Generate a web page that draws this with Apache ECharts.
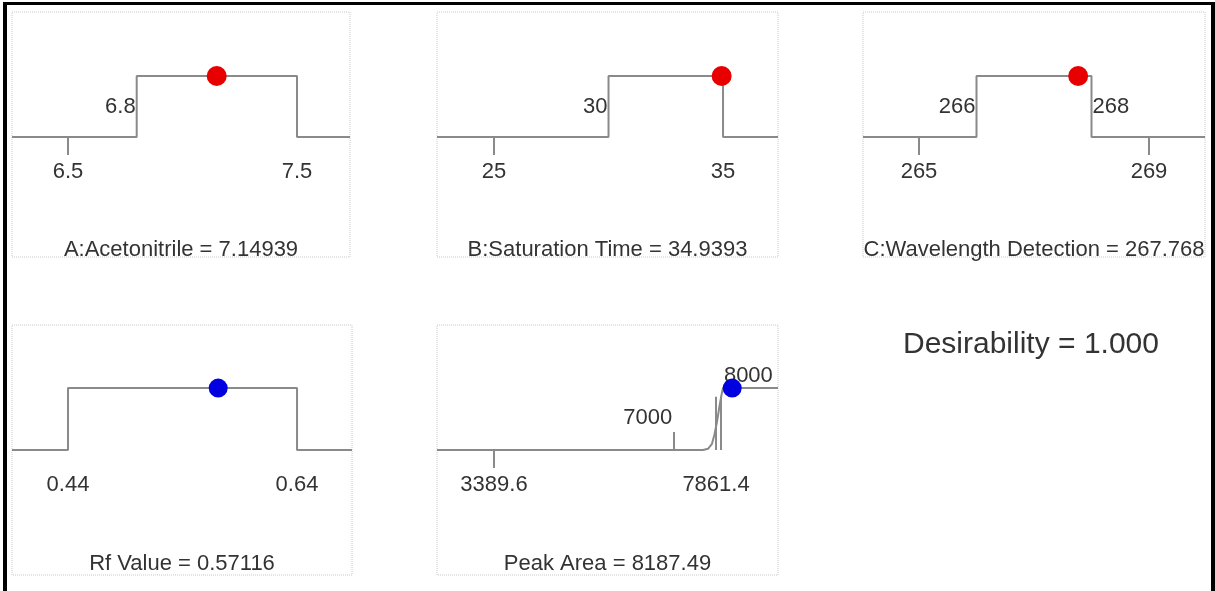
<!DOCTYPE html>
<html>
<head>
<meta charset="utf-8">
<script src="https://cdn.jsdelivr.net/npm/echarts@6/dist/echarts.min.js"></script>
<style>
html,body{margin:0;padding:0;background:#fff;}
#chart{width:1215px;height:591px;}
</style>
</head>
<body>
<div id="chart"></div>
<script>
// ---------- data ----------
const factorNames = ["A:Acetonitrile", "B:Saturation Time", "C:Wavelength Detection", "Rf Value", "Peak Area"];
const optimumValues = [7.14939, 34.9393, 267.768, 0.57116, 8187.49];
const optimumLabels = ["7.14939", "34.9393", "267.768", "0.57116", "8187.49"];
// range tick labels (below the ramp)
const rangeTicks = [[6.5, 7.5], [25, 35], [265, 269], [0.44, 0.64], [3389.6, 7861.4]];
// goal limits (where the ramp steps)
const goalLimits = [[6.8, 7.5], [30, 35], [266, 268], [0.44, 0.64], [7000, 8000]];
// labels drawn above the ramp
const goalLabels = [[6.8], [30], [266, 268], [], [7000, 8000]];
// peak area response ramp (value, desirability level)
const peakAreaCurveX = [7600, 7700, 7780, 7830, 7880, 7930, 7970, 8000];
const peakAreaCurveY = [0, 0.02, 0.1, 0.25, 0.45, 0.7, 0.88, 1];
const peakAreaMarksX = [7000, 7861.4, 7960];
const peakAreaMarksY = [0.29, 0.86, 0.86];
const desirability = "1.000";

// ---------- layout ----------
const grids = [
  {left: 12, top: 12, width: 338, height: 245},
  {left: 437, top: 12, width: 341, height: 245},
  {left: 863, top: 12, width: 342, height: 245},
  {left: 12, top: 325, width: 340, height: 250},
  {left: 437, top: 325, width: 341, height: 250}
];
const xExtents = [[6.2555, 7.7314], [22.51, 37.40], [264.026, 269.974], [0.3911, 0.688], [2241.6, 9109.7]];
const yExtents = [[-1.97, 2.05], [-1.97, 2.05], [-1.97, 2.05], [-2.02, 2.02], [-2.02, 2.02]];
const titleCenterY = [248, 248, 248, 562, 562];
const pointColors = ['#e80000', '#e80000', '#e80000', '#0000e0', '#0000e0'];
// which range ticks get a visible tick mark
const tickMarks = [[6.5], [25], [265, 269], [], [3389.6]];
const labelSide = [['left'], ['left'], ['left', 'right'], [], ['left', 'right']];
const labelLevel = [[0.5], [0.5], [0.5, 0.5], [], [0.52, 1.2]];

const TXT = '#333333';
const LINE = '#8a8a8a';
const FONT = '"Liberation Sans", Arial, sans-serif';

const option = {
  animation: false,
  backgroundColor: '#fff',
  textStyle: {fontFamily: FONT},
  grid: [], xAxis: [], yAxis: [], series: [], title: [],
  graphic: [
    {type: 'rect', shape: {x: 3, y: 2, width: 4, height: 589}, style: {fill: '#000'}},
    {type: 'rect', shape: {x: 3, y: 2, width: 1212, height: 3}, style: {fill: '#000'}},
    {type: 'rect', shape: {x: 1211, y: 2, width: 4, height: 589}, style: {fill: '#000'}}
  ]
};

function textLabel(pos, dist, txt) {
  return {show: true, position: pos, distance: dist, formatter: txt,
          fontSize: 22, color: TXT, fontFamily: FONT, opacity: 1};
}

for (let i = 0; i < 5; i++) {
  const g = grids[i];
  option.grid.push(Object.assign({
    show: true, borderColor: '#c8c8c8', borderWidth: 1, borderType: 'dotted',
    backgroundColor: 'transparent'
  }, g));
  option.xAxis.push({
    type: 'value', gridIndex: i, min: xExtents[i][0], max: xExtents[i][1],
    axisLine: {show: false, onZero: true},
    axisTick: {show: true, customValues: tickMarks[i], length: 18, inside: false,
               lineStyle: {color: LINE, width: 2}},
    axisLabel: {show: false},
    splitLine: {show: false}
  });
  option.yAxis.push({
    type: 'value', gridIndex: i, min: yExtents[i][0], max: yExtents[i][1], show: false,
    splitLine: {show: false}
  });
  // step ramp
  const xmin = xExtents[i][0], xmax = xExtents[i][1];
  let ramp;
  if (i === 4) {
    ramp = [[xmin, 0]];
    for (let k = 0; k < peakAreaCurveX.length; k++) ramp.push([peakAreaCurveX[k], peakAreaCurveY[k]]);
    ramp.push([xmax, 1]);
  } else {
    const lo = goalLimits[i][0], hi = goalLimits[i][1];
    ramp = [[xmin, 0], [lo, 0], [lo, 1], [hi, 1], [hi, 0], [xmax, 0]];
  }
  option.series.push({
    type: 'line', xAxisIndex: i, yAxisIndex: i, data: ramp, showSymbol: false,
    lineStyle: {color: LINE, width: 2}, z: 2
  });
  // range labels below the ramp
  option.series.push({
    type: 'scatter', xAxisIndex: i, yAxisIndex: i, symbolSize: 0,
    itemStyle: {opacity: 1},
    data: rangeTicks[i].map(v => ({value: [v, 0], label: textLabel('bottom', 24, String(v))})),
    z: 3
  });
  // goal labels
  if (goalLabels[i].length) {
    option.series.push({
      type: 'scatter', xAxisIndex: i, yAxisIndex: i, symbolSize: 0,
      itemStyle: {opacity: 1},
      data: goalLabels[i].map((v, k) => ({
        value: [v, labelLevel[i][k]],
        label: textLabel(labelSide[i][k], 1, String(v))
      })),
      z: 3
    });
  }
  // optimum point
  option.series.push({
    type: 'scatter', xAxisIndex: i, yAxisIndex: i, symbol: 'circle',
    symbolSize: i < 3 ? 20 : 19,
    itemStyle: {color: pointColors[i], opacity: 1},
    data: [[optimumValues[i], 1]], z: 5
  });
  // title
  option.title.push({
    text: factorNames[i] + ' = ' + optimumLabels[i],
    left: g.left + g.width / 2, top: titleCenterY[i] - 9, textAlign: 'center',
    textStyle: {fontSize: 22, fontWeight: 'normal', color: TXT, fontFamily: FONT},
    padding: 0
  });
}
// extra vertical marks on the peak area ramp
option.series.push({
  type: 'lines', coordinateSystem: 'cartesian2d', xAxisIndex: 4, yAxisIndex: 4,
  lineStyle: {color: LINE, width: 2, opacity: 1},
  data: peakAreaMarksX.map((x, k) => ({coords: [[x, 0], [x, peakAreaMarksY[k]]]})),
  z: 2
});
option.title.push({
  text: 'Desirability = ' + desirability, left: 903, top: 330, padding: 0,
  textStyle: {fontSize: 30, fontWeight: 'normal', color: TXT, fontFamily: FONT}
});

const chart = echarts.init(document.getElementById('chart'), null, {renderer: 'canvas'});
chart.setOption(option);
</script>
</body>
</html>
